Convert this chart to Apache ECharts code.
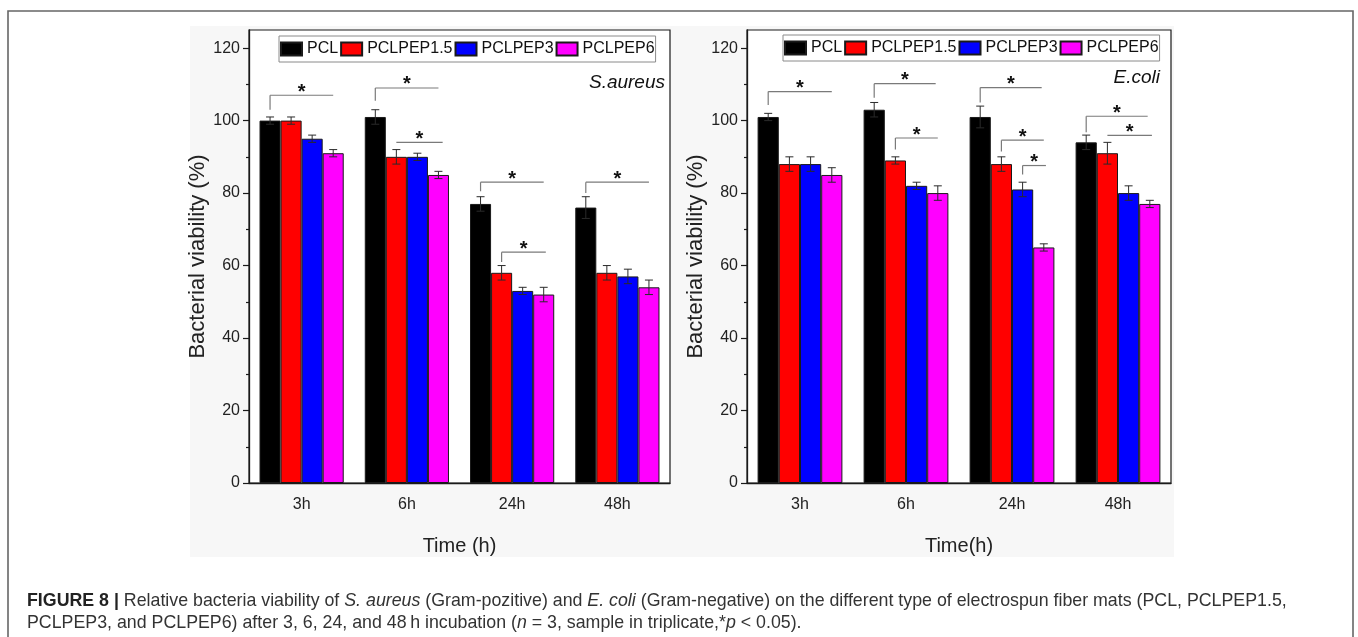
<!DOCTYPE html>
<html><head><meta charset="utf-8">
<script src="https://cdn.jsdelivr.net/npm/echarts@6/dist/echarts.min.js"></script>
<style>html,body{margin:0;padding:0;background:#fff;} #c{width:1358px;height:637px;}</style>
</head><body><div id="c"></div>
<script>
const categories = ['3h', '6h', '24h', '48h'];
const seriesNames = ['PCL', 'PCLPEP1.5', 'PCLPEP3', 'PCLPEP6'];
const seriesColors = ['#000000', '#ff0000', '#0000ff', '#ff00ff'];
const yTickValues = [0, 20, 40, 60, 80, 100, 120];
const yMinorTickValues = [10, 30, 50, 70, 90, 110];

// S. aureus (left panel): means and error (±)
const saPCL = [100, 101, 77, 76];
const saPEP15 = [100, 90, 58, 58];
const saPEP3 = [95, 90, 53, 57];
const saPEP6 = [91, 85, 52, 54];
const saPCLErr = [1, 2, 2, 3];
const saPEP15Err = [1, 2, 2, 2];
const saPEP3Err = [1, 1, 1, 2];
const saPEP6Err = [1, 1, 2, 2];

// E. coli (right panel)
const ecPCL = [101, 103, 101, 94];
const ecPEP15 = [88, 89, 88, 91];
const ecPEP3 = [88, 82, 81, 80];
const ecPEP6 = [85, 80, 65, 77];
const ecPCLErr = [1, 2, 3, 2];
const ecPEP15Err = [2, 1, 2, 3];
const ecPEP3Err = [2, 1, 2, 2];
const ecPEP6Err = [2, 2, 1, 1];

// significance brackets: [category, fromBar, toBar, lineValue, tickEndValue|null]
const saBrackets = [
  [0, 0, 3, 107, 103],
  [1, 0, 3, 109, 105.5],
  [1, 1, 3.2, 94, null],
  [2, 0, 3, 83, 80.5],
  [2, 1, 3.1, 63.7, 61],
  [3, 0, 3, 83, 80]
];
const ecBrackets = [
  [0, 0, 3, 108, 104.3],
  [1, 0, 2.9, 110.2, 106.3],
  [1, 1, 3, 95.2, 92],
  [2, 0, 2.9, 109.1, 105],
  [2, 1, 3, 94.6, 91.5],
  [2, 2, 3.1, 87.6, 85.1],
  [3, 0, 2.9, 101.2, 96.8],
  [3, 1, 3.1, 95.9, null]
];

const SANS = "'Liberation Sans', Arial, Helvetica, sans-serif";
const AX = '#1a1a1a';

const saMeans = [saPCL, saPEP15, saPEP3, saPEP6];
const saErrs = [saPCLErr, saPEP15Err, saPEP3Err, saPEP6Err];
const ecMeans = [ecPCL, ecPEP15, ecPEP3, ecPEP6];
const ecErrs = [ecPCLErr, ecPEP15Err, ecPEP3Err, ecPEP6Err];

const grids = [
  {left: 249, top: 30, width: 421, height: 453, show: true, borderColor: AX, borderWidth: 1.2, backgroundColor: '#ffffff'},
  {left: 747, top: 30, width: 424, height: 453, show: true, borderColor: AX, borderWidth: 1.2, backgroundColor: '#ffffff'}
];

const xAxes = [], yAxes = [];
const xNames = ['Time (h)', 'Time(h)'];
const yNameGaps = [37, 39];
for (let g = 0; g < 2; g++) {
  xAxes.push({
    gridIndex: g, type: 'category', data: categories, position: 'bottom',
    axisLine: {lineStyle: {color: AX, width: 1.3}},
    axisTick: {alignWithLabel: true, length: 7, lineStyle: {color: AX, width: 1.2}},
    axisLabel: {margin: 14, fontFamily: SANS, fontSize: 16, color: '#222'},
    name: xNames[g], nameLocation: 'middle', nameGap: 53,
    nameTextStyle: {fontFamily: SANS, fontSize: 20, color: '#222'}
  });
  xAxes.push({
    gridIndex: g, type: 'category', data: categories, position: 'bottom',
    axisLine: {show: false},
    axisTick: {alignWithLabel: false, length: 4, lineStyle: {color: AX, width: 1.2}},
    axisLabel: {show: false}
  });
  yAxes.push({
    gridIndex: g, type: 'value', min: 0, max: 125, interval: 20, position: 'left',
    splitLine: {show: false},
    axisLine: {show: true, lineStyle: {color: AX, width: 1.3}},
    axisTick: {show: true, length: 6, customValues: yTickValues, lineStyle: {color: AX, width: 1.2}},
    axisLabel: {customValues: yTickValues, margin: 9, fontFamily: SANS, fontSize: 16, color: '#222'},
    name: 'Bacterial viability (%)', nameLocation: 'middle', nameGap: yNameGaps[g],
    nameTextStyle: {fontFamily: SANS, fontSize: 22, color: '#222'}
  });
  yAxes.push({
    gridIndex: g, type: 'value', min: 0, max: 125, interval: 20, position: 'left',
    splitLine: {show: false},
    axisLine: {show: false},
    axisTick: {show: true, length: 3, customValues: yMinorTickValues, lineStyle: {color: AX, width: 1.2}},
    axisLabel: {show: false}
  });
}

function errRenderer(k) {
  return function (params, api) {
    const i = api.value(0), m = api.value(1), e = api.value(2);
    const band = api.size([1, 0])[0];
    const bw = band * 0.8 / 4;
    const c = api.coord([i, m]);
    const x = c[0] + (k - 1.5) * bw;
    const yt = api.coord([i, m + e])[1];
    const yb = api.coord([i, m - e])[1];
    const cap = 4;
    const st = {stroke: '#2a2a2a', lineWidth: 1};
    return {type: 'group', children: [
      {type: 'line', shape: {x1: x, y1: yt, x2: x, y2: yb}, style: st},
      {type: 'line', shape: {x1: x - cap, y1: yt, x2: x + cap, y2: yt}, style: st},
      {type: 'line', shape: {x1: x - cap, y1: yb, x2: x + cap, y2: yb}, style: st}
    ]};
  };
}

function bracketRenderer(params, api) {
  const i = api.value(0), b0 = api.value(1), b1 = api.value(2), yl = api.value(3), yt = api.value(4);
  const band = api.size([1, 0])[0];
  const bw = band * 0.8 / 4;
  const c = api.coord([i, yl]);
  const x0 = c[0] + (b0 - 1.5) * bw;
  const x1 = c[0] + (b1 - 1.5) * bw;
  const y = c[1];
  const st = {stroke: '#7a7a7a', lineWidth: 1.2};
  const children = [
    {type: 'line', shape: {x1: x0, y1: y, x2: x1, y2: y}, style: st},
    {type: 'text', x: (x0 + x1) / 2, y: y - 3, style: {text: '*', fontSize: 20, fontWeight: 'bold', fontFamily: SANS, fill: '#111', align: 'center', verticalAlign: 'middle'}}
  ];
  if (yt !== yl) {
    const y2 = api.coord([i, yt])[1];
    children.push({type: 'line', shape: {x1: x0, y1: y, x2: x0, y2: y2}, style: st});
  }
  return {type: 'group', children: children};
}

const series = [];
const panels = [[saMeans, saErrs, saBrackets], [ecMeans, ecErrs, ecBrackets]];
for (let g = 0; g < 2; g++) {
  const [means, errs, brackets] = panels[g];
  for (let k = 0; k < 4; k++) {
    series.push({
      type: 'bar', name: seriesNames[k], xAxisIndex: g * 2, yAxisIndex: g * 2,
      data: means[k], barGap: '0%', barCategoryGap: '20%',
      itemStyle: {color: seriesColors[k], borderColor: '#1a1a1a', borderWidth: 1},
      emphasis: {disabled: true}, z: 2
    });
  }
  for (let k = 0; k < 4; k++) {
    series.push({
      type: 'custom', name: seriesNames[k] + ' err', xAxisIndex: g * 2, yAxisIndex: g * 2,
      data: categories.map((c, i) => [i, means[k][i], errs[k][i]]),
      encode: {x: 0, y: 1}, renderItem: errRenderer(k), z: 5, silent: true
    });
  }
  series.push({
    type: 'custom', name: 'sig', xAxisIndex: g * 2, yAxisIndex: g * 2,
    data: brackets.map(b => [b[0], b[1], b[2], b[3], b[4] == null ? b[3] : b[4]]),
    encode: {x: 0, y: 3}, renderItem: bracketRenderer, z: 6, silent: true
  });
}

const legendBase = {
  data: seriesNames, orient: 'horizontal', icon: 'rect', itemWidth: 21, itemHeight: 13, itemGap: 2,
  backgroundColor: '#ffffff', borderColor: '#8a8a8a', borderWidth: 1, borderRadius: 0,
  padding: [5, 1, 5, 1], selectedMode: false,
  textStyle: {fontFamily: SANS, fontSize: 16, color: '#111'}
};

const option = {
  backgroundColor: '#ffffff',
  animation: false,
  grid: grids,
  xAxis: xAxes,
  yAxis: yAxes,
  legend: [
    Object.assign({}, legendBase, {left: 279, top: 36}),
    Object.assign({}, legendBase, {left: 783, top: 35})
  ],
  series: series,
  graphic: [
    {type: 'rect', z: -100, shape: {x: 8, y: 11, width: 1345, height: 640}, style: {fill: '#ffffff', stroke: '#666', lineWidth: 1.6}},
    {type: 'rect', z: -90, shape: {x: 190, y: 26, width: 984, height: 531}, style: {fill: '#f7f7f7'}},
    {type: 'text', z: 100, x: 665, y: 83, style: {text: 'S.aureus', fontFamily: SANS, fontStyle: 'italic', fontSize: 19, fill: '#111', align: 'right', verticalAlign: 'middle'}},
    {type: 'text', z: 100, x: 1160, y: 78, style: {text: 'E.coli', fontFamily: SANS, fontStyle: 'italic', fontSize: 19, fill: '#111', align: 'right', verticalAlign: 'middle'}},
    {type: 'text', z: 100, x: 27, y: 601, style: {
      text: '{b|FIGURE 8 |} Relative bacteria viability of {i|S. aureus} (Gram-pozitive) and {i|E. coli} (Gram-negative) on the different type of electrospun fiber mats (PCL, PCLPEP1.5,',
      fontFamily: SANS, fontSize: 17.8, fill: '#333', verticalAlign: 'middle',
      rich: {b: {fontWeight: 'bold', fontFamily: SANS, fontSize: 17.8, fill: '#222'}, i: {fontStyle: 'italic', fontFamily: SANS, fontSize: 17.8, fill: '#333'}}
    }},
    {type: 'text', z: 100, x: 27, y: 623, style: {
      text: 'PCLPEP3, and PCLPEP6) after 3, 6, 24, and 48\u2009h incubation ({i|n} = 3, sample in triplicate,*{i|p} < 0.05).',
      fontFamily: SANS, fontSize: 17.8, fill: '#333', verticalAlign: 'middle',
      rich: {i: {fontStyle: 'italic', fontFamily: SANS, fontSize: 17.8, fill: '#333'}}
    }}
  ]
};

const chart = echarts.init(document.getElementById('c'), null, {renderer: 'canvas'});
chart.setOption(option);
</script>
</body></html>
